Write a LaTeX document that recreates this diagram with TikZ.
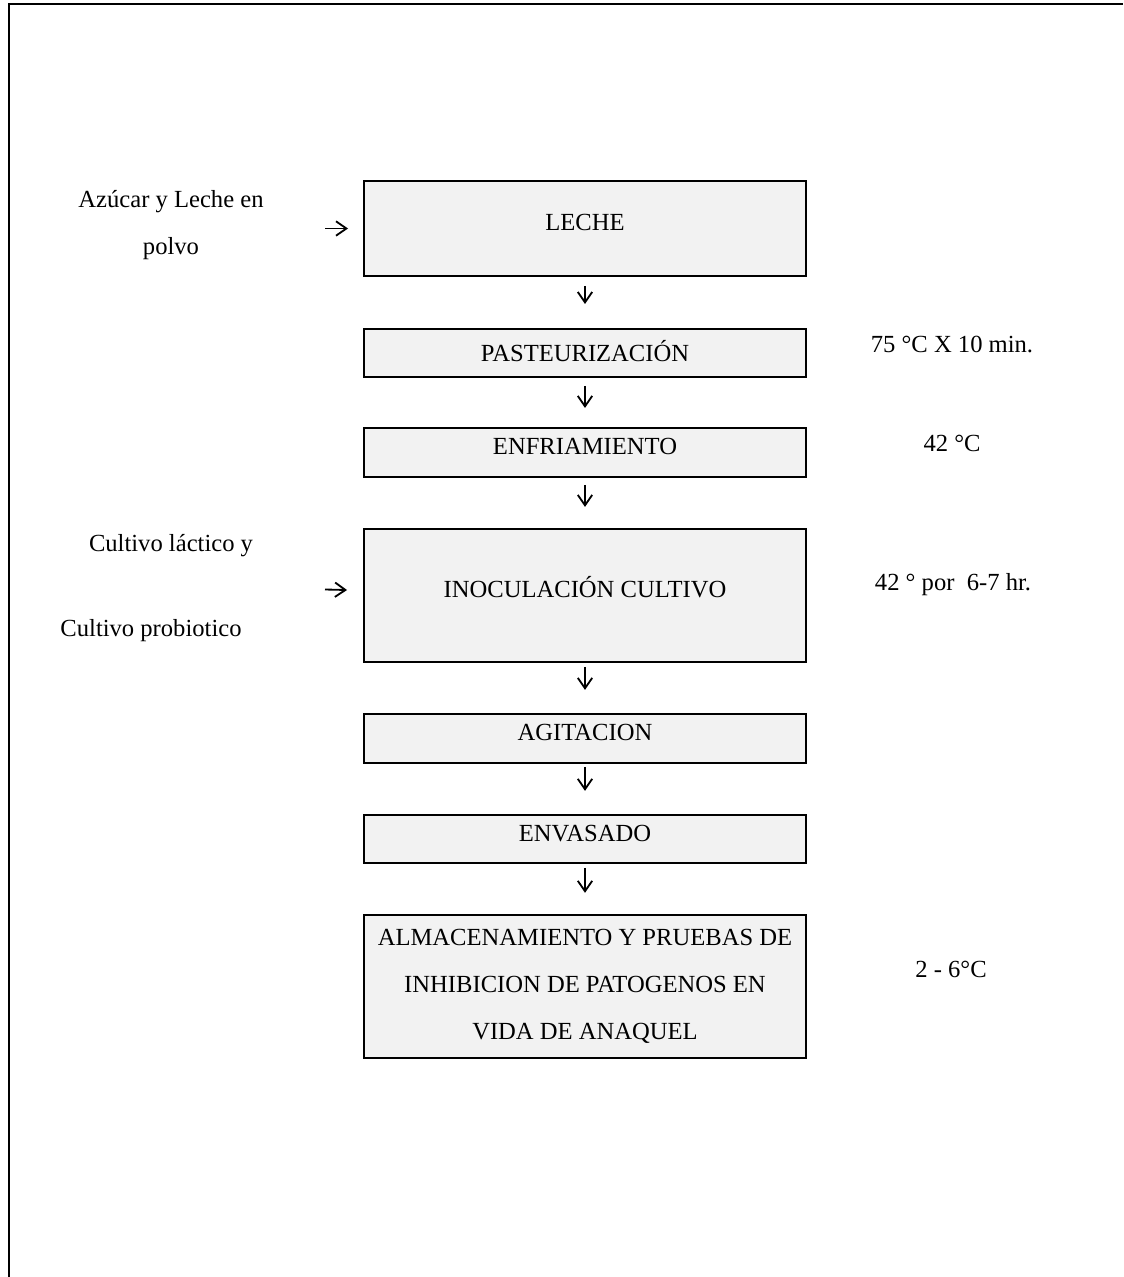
\documentclass[tikz,border=0pt]{standalone}
\usepackage{fontspec}
\setmainfont{Liberation Serif}
\usepackage{xcolor}
\usepackage{tikz}
\usetikzlibrary{arrows.meta,positioning}
\definecolor{boxgray}{HTML}{F2F2F2}

\begin{document}
\begin{tikzpicture}[
  font=\fontsize{17.5}{33.5}\selectfont,
  stepbox/.style={draw=black,line width=1.4pt,fill=boxgray,minimum width=11.05cm,
    text height=0.41cm,text depth=0.3cm,align=center},
  bigbox/.style={draw=black,line width=1.4pt,fill=boxgray,minimum width=11.05cm,align=center},
  note/.style={inner sep=0pt,anchor=base},
  flow/.style={-{Straight Barb[length=2.6mm,width=3.6mm]},line width=1.3pt}
]
\useasboundingbox (0,0) rectangle (28.075,-31.925);
\draw[line width=1.3pt] (0.225,-31.925) -- (0.225,-0.1) -- (28.075,-0.1);

\node[stepbox,minimum height=2.375cm] (leche) at (14.625,-5.7125) {LECHE};
\node[stepbox,minimum height=1.2cm,text depth=0cm,below=1.275cm of leche] (pasteur) {PASTEURIZACIÓN};
\node[stepbox,minimum height=1.225cm,below=1.225cm of pasteur] (enfria) {ENFRIAMIENTO};
\node[stepbox,minimum height=3.325cm,below=1.25cm of enfria] (inocul) {INOCULACIÓN CULTIVO};
\node[stepbox,minimum height=1.225cm,below=1.25cm of inocul] (agita) {AGITACION};
\node[stepbox,minimum height=1.2cm,below=1.25cm of agita] (envasa) {ENVASADO};
\node[bigbox,minimum height=3.575cm,below=1.25cm of envasa] (almacen)
  {ALMACENAMIENTO Y PRUEBAS DE\\INHIBICION DE PATOGENOS EN\\VIDA DE ANAQUEL};

% entradas
\node[inner sep=0pt,anchor=north,align=center] (azucar) at (4.275,-4.75) {Azúcar y Leche en\\polvo};
\node[note] (cultivoA) at (4.275,-13.775) {Cultivo láctico y};
\node[note] (cultivoB) at (3.775,-15.9) {Cultivo probiotico};
\coordinate (azin) at (8.125,-5.7125);
\coordinate (cultin) at (8.125,-14.7375);

% condiciones
\node[note] (tpast) at (23.8,-8.8175) {75 °C X 10 min.};
\node[note] (tenfria) at (23.8,-11.29) {42 °C};
\node[note] (tinocul) at (23.825,-14.76) {42 ° por\ \ 6-7 hr.};
\node[note] (talmacen) at (23.775,-24.425) {2 - 6°C};

\draw[flow,shorten >=0.375cm] (azin) -- (leche);
\draw[flow,shorten >=0.4cm] (cultin) -- (inocul);
\draw[flow,shorten <=0.225cm,shorten >=0.6cm] (leche) -- (pasteur);
\draw[flow,shorten <=0.2cm,shorten >=0.475cm] (pasteur) -- (enfria);
\draw[flow,shorten <=0.175cm,shorten >=0.525cm] (enfria) -- (inocul);
\draw[flow,shorten <=0.1cm,shorten >=0.575cm] (inocul) -- (agita);
\draw[flow,shorten <=0.075cm,shorten >=0.575cm] (agita) -- (envasa);
\draw[flow,shorten <=0.1cm,shorten >=0.525cm] (envasa) -- (almacen);
\end{tikzpicture}
\end{document}
